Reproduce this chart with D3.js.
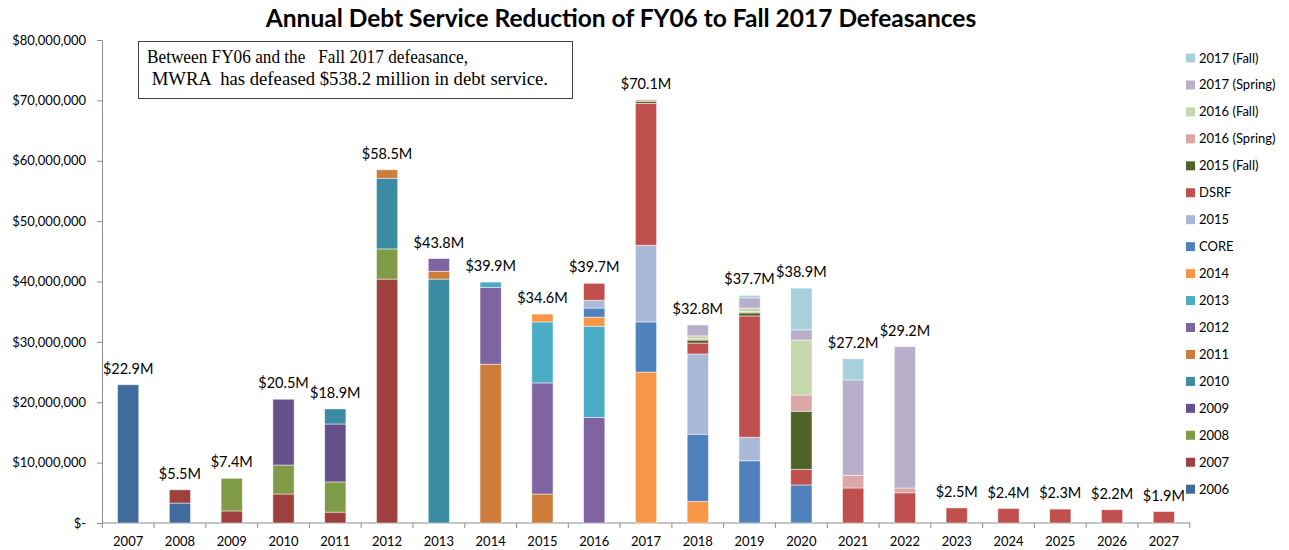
<!DOCTYPE html>
<html>
<head>
<meta charset="utf-8">
<script src="https://cdn.jsdelivr.net/npm/d3@7"></script>
<style>
  body { margin: 0; background: #fff; }
</style>
</head>
<body>
<div id="chart"></div>
<script>
// fiscal years on the x axis
const years = ['2007','2008','2009','2010','2011','2012','2013','2014','2015','2016','2017',
               '2018','2019','2020','2021','2022','2023','2024','2025','2026','2027'];

// defeasance series, bottom to top ($ millions)
const seriesNames = ['2006','2007','2008','2009','2010','2011','2012','2013','2014','CORE','2015',
                     'DSRF','2015 (Fall)','2016 (Spring)','2016 (Fall)','2017 (Spring)','2017 (Fall)'];

const d2006  = [22.9,3.3,0,0,0,0,0,0,0,0,0,0,0,0,0,0,0,0,0,0,0];
const d2007  = [0,2.2,2.0,4.8,1.8,40.4,0,0,0,0,0,0,0,0,0,0,0,0,0,0,0];
const d2008  = [0,0,5.4,4.8,5.0,5.0,0,0,0,0,0,0,0,0,0,0,0,0,0,0,0];
const d2009  = [0,0,0,10.9,9.6,0,0,0,0,0,0,0,0,0,0,0,0,0,0,0,0];
const d2010  = [0,0,0,0,2.5,11.7,40.4,0,0,0,0,0,0,0,0,0,0,0,0,0,0];
const d2011  = [0,0,0,0,0,1.4,1.3,26.3,4.8,0,0,0,0,0,0,0,0,0,0,0,0];
const d2012  = [0,0,0,0,0,0,2.1,12.7,18.4,17.5,0,0,0,0,0,0,0,0,0,0,0];
const d2013  = [0,0,0,0,0,0,0,0.9,10.1,15.1,0,0,0,0,0,0,0,0,0,0,0];
const d2014  = [0,0,0,0,0,0,0,0,1.3,1.5,25.0,3.6,0,0,0,0,0,0,0,0,0];
const dCore  = [0,0,0,0,0,0,0,0,0,1.5,8.3,11.1,10.3,6.3,0,0,0,0,0,0,0];
const d2015  = [0,0,0,0,0,0,0,0,0,1.3,12.7,13.3,3.9,0,0,0,0,0,0,0,0];
const dDsrf  = [0,0,0,0,0,0,0,0,0,2.8,23.5,1.8,20.1,2.6,5.8,5.0,2.5,2.4,2.3,2.2,1.9];
const d2015F = [0,0,0,0,0,0,0,0,0,0,0.35,0.5,0.5,9.6,0,0,0,0,0,0,0];
const d2016S = [0,0,0,0,0,0,0,0,0,0,0.25,0.2,0.2,2.7,2.1,0.8,0,0,0,0,0];
const d2016F = [0,0,0,0,0,0,0,0,0,0,0,0.5,0.6,9.1,0,0,0,0,0,0,0];
const d2017S = [0,0,0,0,0,0,0,0,0,0,0,1.8,1.7,1.7,15.8,23.4,0,0,0,0,0];
const d2017F = [0,0,0,0,0,0,0,0,0,0,0,0,0.4,6.9,3.5,0,0,0,0,0,0];

const seriesValues = [d2006,d2007,d2008,d2009,d2010,d2011,d2012,d2013,d2014,dCore,d2015,
                      dDsrf,d2015F,d2016S,d2016F,d2017S,d2017F];

const seriesColors = ['#416a9d','#9e413e','#7f9b48','#67518a','#3b8ba3','#cd7c39','#8064a2','#4bacc6',
                      '#f79646','#4f81bd','#aab9d8','#c0504d','#4f6228','#dca8a7','#c6d8ab','#b8afcb','#a8cfdc'];

const yTicks = [0,10,20,30,40,50,60,70,80];

const title = 'Annual Debt Service Reduction of FY06 to Fall 2017 Defeasances';
const noteLines = ['Between FY06 and the   Fall 2017 defeasance,',
                   ' MWRA  has defeased $538.2 million in debt service.'];

// layout
const W = 1289, H = 550;
const margin = {top: 40, right: 99, bottom: 27, left: 102};
const width = W - margin.left - margin.right;
const height = H - margin.top - margin.bottom;
const sans = 'Lato, "Open Sans", sans-serif';

const table = years.map((y, i) => {
    const row = {year: y};
    seriesNames.forEach((s, j) => row[s] = seriesValues[j][i]);
    return row;
});

const stacked = d3.stack().keys(seriesNames)(table);

const svg = d3.select('#chart').append('svg')
    .attr('width', W)
    .attr('height', H)
    .style('font-family', sans);

const g = svg.append('g')
    .attr('transform', 'translate(' + margin.left + ',' + margin.top + ')');

const xScale = d3.scaleBand()
    .domain(years)
    .range([0, width])
    .paddingInner(0.59)
    .paddingOuter(0.3);

const yScale = d3.scaleLinear()
    .domain([0, 80])
    .range([height, 0]);

// title
svg.append('text')
    .attr('x', 621)
    .attr('y', 27)
    .attr('text-anchor', 'middle')
    .attr('font-size', 24.5)
    .attr('font-weight', 'bold')
    .attr('fill', '#000')
    .text(title);

// y axis
const yAxis = d3.axisLeft(yScale)
    .tickValues(yTicks)
    .tickSize(5)
    .tickPadding(11)
    .tickFormat(d => d === 0 ? '$-' : '$' + d3.format(',')(d * 1e6));

const yAxisGroup = g.append('g')
    .attr('class', 'y-axis')
    .call(yAxis);

// x axis with ticks between categories
const xAxis = d3.axisBottom(xScale)
    .tickSize(0)
    .tickPadding(14);

const xAxisGroup = g.append('g')
    .attr('class', 'x-axis')
    .attr('transform', 'translate(0,' + height + ')')
    .call(xAxis);

const step = xScale.step();
const firstEdge = xScale(years[0]) - (step - xScale.bandwidth()) / 2;
xAxisGroup.selectAll('.sep')
    .data(d3.range(years.length + 1))
    .join('line')
    .attr('class', 'sep')
    .attr('x1', i => firstEdge + i * step)
    .attr('x2', i => firstEdge + i * step)
    .attr('y1', 0)
    .attr('y2', 5);

[yAxisGroup, xAxisGroup].forEach(ag => {
    ag.select('.domain').attr('stroke', '#8c8c8c');
    ag.selectAll('line').attr('stroke', '#8c8c8c');
    ag.selectAll('text').attr('font-size', 13).attr('fill', '#000')
        .attr('font-family', sans);
});
xAxisGroup.select('.domain').attr('d', 'M0,0H' + width);

// stacked bars
g.append('g')
    .selectAll('g')
    .data(stacked)
    .join('g')
    .attr('fill', (d, i) => seriesColors[i])
    .selectAll('rect')
    .data(d => d.filter(p => p[1] - p[0] > 0))
    .join('rect')
    .attr('x', d => xScale(d.data.year))
    .attr('y', d => yScale(d[1]))
    .attr('width', xScale.bandwidth())
    .attr('height', d => yScale(d[0]) - yScale(d[1]))
    .attr('stroke', '#ffffff')
    .attr('stroke-opacity', 0.6)
    .attr('stroke-width', 0.8);

// total labels
const totals = table.map(r => ({year: r.year, total: d3.sum(seriesNames, s => r[s])}));

g.append('g')
    .selectAll('text')
    .data(totals)
    .join('text')
    .attr('x', d => xScale(d.year) + xScale.bandwidth() / 2)
    .attr('y', d => yScale(d.total) - 11)
    .attr('text-anchor', 'middle')
    .attr('font-size', 14.5)
    .attr('fill', '#000')
    .text(d => '$' + d3.format('.1f')(d.total) + 'M');

// note box (condensed serif look)
const note = svg.append('g');
note.append('rect')
    .attr('x', 138.5)
    .attr('y', 41.5)
    .attr('width', 434)
    .attr('height', 57)
    .attr('fill', '#fff')
    .attr('stroke', '#444')
    .attr('stroke-width', 1);

const noteWidths = [321, 401];
note.selectAll('text')
    .data(noteLines)
    .join('text')
    .attr('x', 147)
    .attr('y', (d, i) => 63 + i * 22)
    .attr('textLength', (d, i) => noteWidths[i])
    .attr('lengthAdjust', 'spacingAndGlyphs')
    .style('font-family', '"Liberation Serif", serif')
    .style('font-size', '18px')
    .style('white-space', 'pre')
    .attr('fill', '#000')
    .text(d => d);

// legend, top entry is the last series
const legend = svg.append('g')
    .attr('transform', 'translate(1186,58)');

const legendItems = legend.selectAll('g')
    .data(seriesNames.slice().reverse())
    .join('g')
    .attr('transform', (d, i) => 'translate(0,' + (i * 26.95) + ')');

legendItems.append('rect')
    .attr('x', 0)
    .attr('y', -4.5)
    .attr('width', 9)
    .attr('height', 9)
    .attr('fill', d => seriesColors[seriesNames.indexOf(d)]);

legendItems.append('text')
    .attr('x', 13)
    .attr('y', 4.5)
    .attr('font-size', 13)
    .attr('fill', '#000')
    .text(d => d);
</script>
</body>
</html>
